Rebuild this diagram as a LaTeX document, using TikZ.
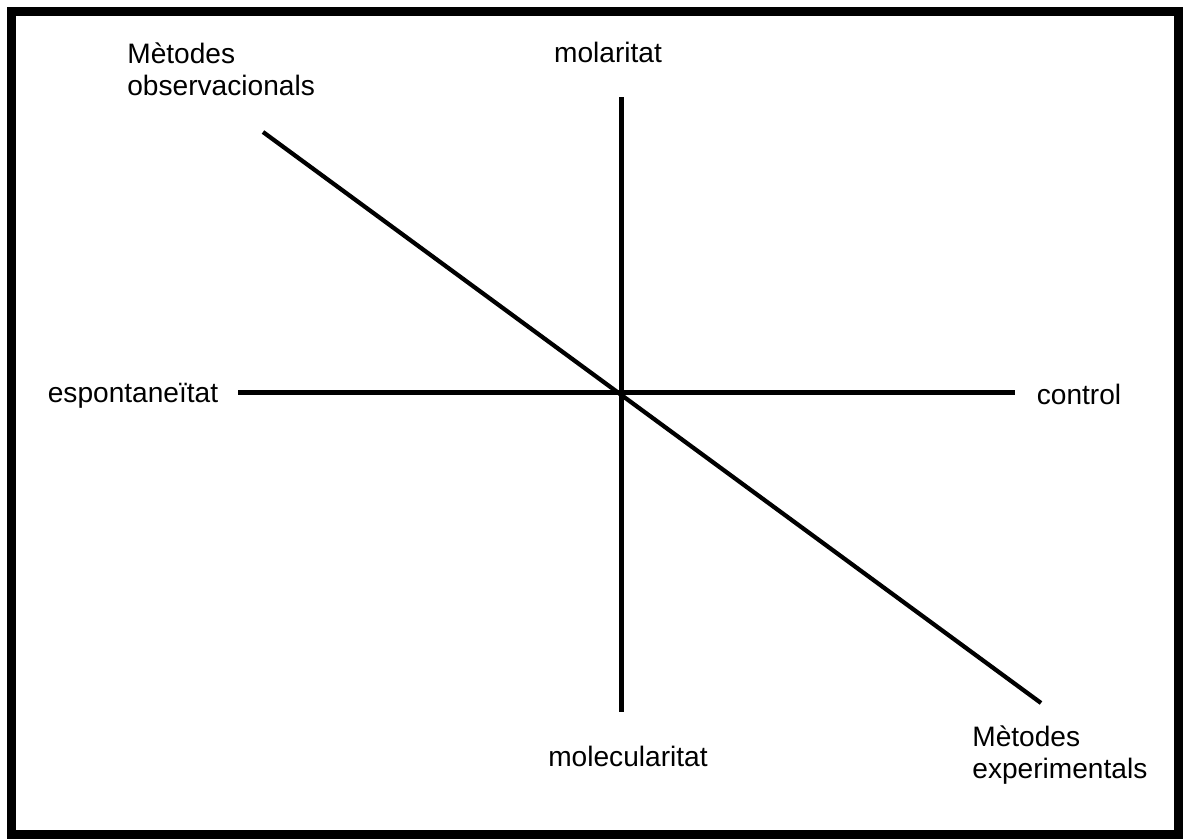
\documentclass[tikz,border=0pt]{standalone}
\usepackage{fontspec}
\setmainfont{Liberation Sans}
\usepackage{tikz}
\usetikzlibrary{positioning}

\begin{document}
\begin{tikzpicture}[
    x=0.02cm, y=-0.02cm,
    every node/.style={font=\fontsize{16pt}{18.6pt}\selectfont, inner sep=0pt},
    pole/.style={anchor=base},
    method/.style={anchor=north west, align=left},
    axis/.style={line width=0.1cm},
    frame/.style={line width=0.18cm}
]
    \useasboundingbox (0,0) rectangle (1185,838);

    % Outer frame
    \draw[frame] (11.5,11.5) rectangle (1178.5,834);

    % Axis end points
    \coordinate (molTop) at (621,97);
    \coordinate (molBot) at (621,712);
    \coordinate (espL) at (238,392);
    \coordinate (ctrlR) at (1015,392);
    \coordinate (obsEnd) at (263,132);
    \coordinate (expEnd) at (1041,703);

    % Labels
    \node[pole] (molar) at (608,63) {molaritat};
    \node[pole] (molec) at (628,766) {molecularitat};
    \node[pole] (espont) at (133,402) {espontaneïtat};
    \node[pole] (control) at (1079,404) {control};
    \node[method] (obs) at (127,42) {Mètodes\\observacionals};
    \node[method] (exper) at (972,725) {Mètodes\\experimentals};

    % Axes
    \draw[axis] (molTop) -- (molBot);
    \draw[axis] (espL) -- (ctrlR);
    \draw[line width=0.085cm] (obsEnd) -- (expEnd);
\end{tikzpicture}
\end{document}
